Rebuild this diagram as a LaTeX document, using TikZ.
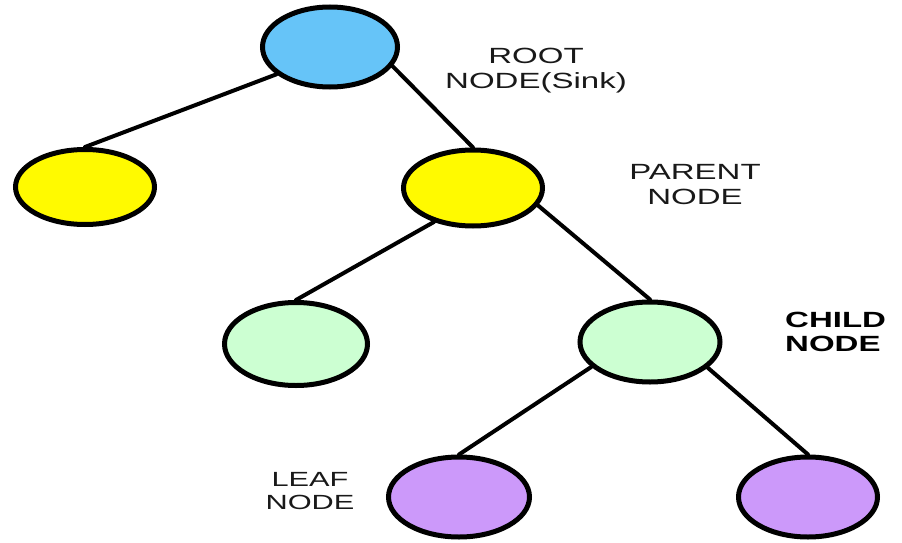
\documentclass[tikz,border=0pt]{standalone}
\usepackage{fontspec}
\usetikzlibrary{shapes.geometric}
\newfontfamily\labelfont[FakeStretch=1.5]{Liberation Sans}
\definecolor{rootblue}{RGB}{102,196,248}
\definecolor{nodeyellow}{RGB}{255,250,0}
\definecolor{nodegreen}{RGB}{204,255,210}
\definecolor{nodepurple}{RGB}{204,153,250}
\begin{document}
\begin{tikzpicture}[x=1pt,y=-1pt,
  treenode/.style={ellipse, draw=black, line width=5pt, inner sep=0pt},
  link/.style={line width=4pt, line cap=round},
  tag/.style={font=\labelfont\fontsize{22}{25}\selectfont, align=center, inner sep=0pt, text=black!90}]
\useasboundingbox[fill=white] (0,0) rectangle (902,543);

% tree nodes
\node[treenode, fill=rootblue,   minimum width=135pt, minimum height=80pt] (root)   at (330,47)  {};
\node[treenode, fill=nodeyellow, minimum width=139pt, minimum height=75pt] (left)   at (85,187)  {};
\node[treenode, fill=nodeyellow, minimum width=139pt, minimum height=76pt] (parent) at (473,188) {};
\node[treenode, fill=nodegreen,  minimum width=143pt, minimum height=83pt] (childl) at (296,344) {};
\node[treenode, fill=nodegreen,  minimum width=140pt, minimum height=80pt] (childr) at (650,342) {};
\node[treenode, fill=nodepurple, minimum width=141pt, minimum height=80pt] (leafl)  at (459,497) {};
\node[treenode, fill=nodepurple, minimum width=139pt, minimum height=80pt] (leafr)  at (808,497) {};

% connectors
\draw[link] (root.207)   -- (left.north);
\draw[link] (root.343)   -- (parent.north);
\draw[link] (parent.221) -- (childl.north);
\draw[link] (parent.345) -- (childr.north);
\draw[link] (childr.203) -- (leafl.north);
\draw[link] (childr.336) -- (leafr.north);

% labels
\node[tag] (rootlabel)   at (536,71)  {ROOT\\NODE(Sink)};
\node[tag] (parentlabel) at (695,185) {PARENT\\NODE};
\node[tag, anchor=west, align=left, font=\labelfont\bfseries\fontsize{22}{24}\selectfont, text=black] (childlabel) at (785,332) {CHILD\\NODE};
\node[tag, font=\labelfont\fontsize{20.5}{23}\selectfont] (leaflabel) at (310,491) {LEAF\\NODE};
\end{tikzpicture}
\end{document}
